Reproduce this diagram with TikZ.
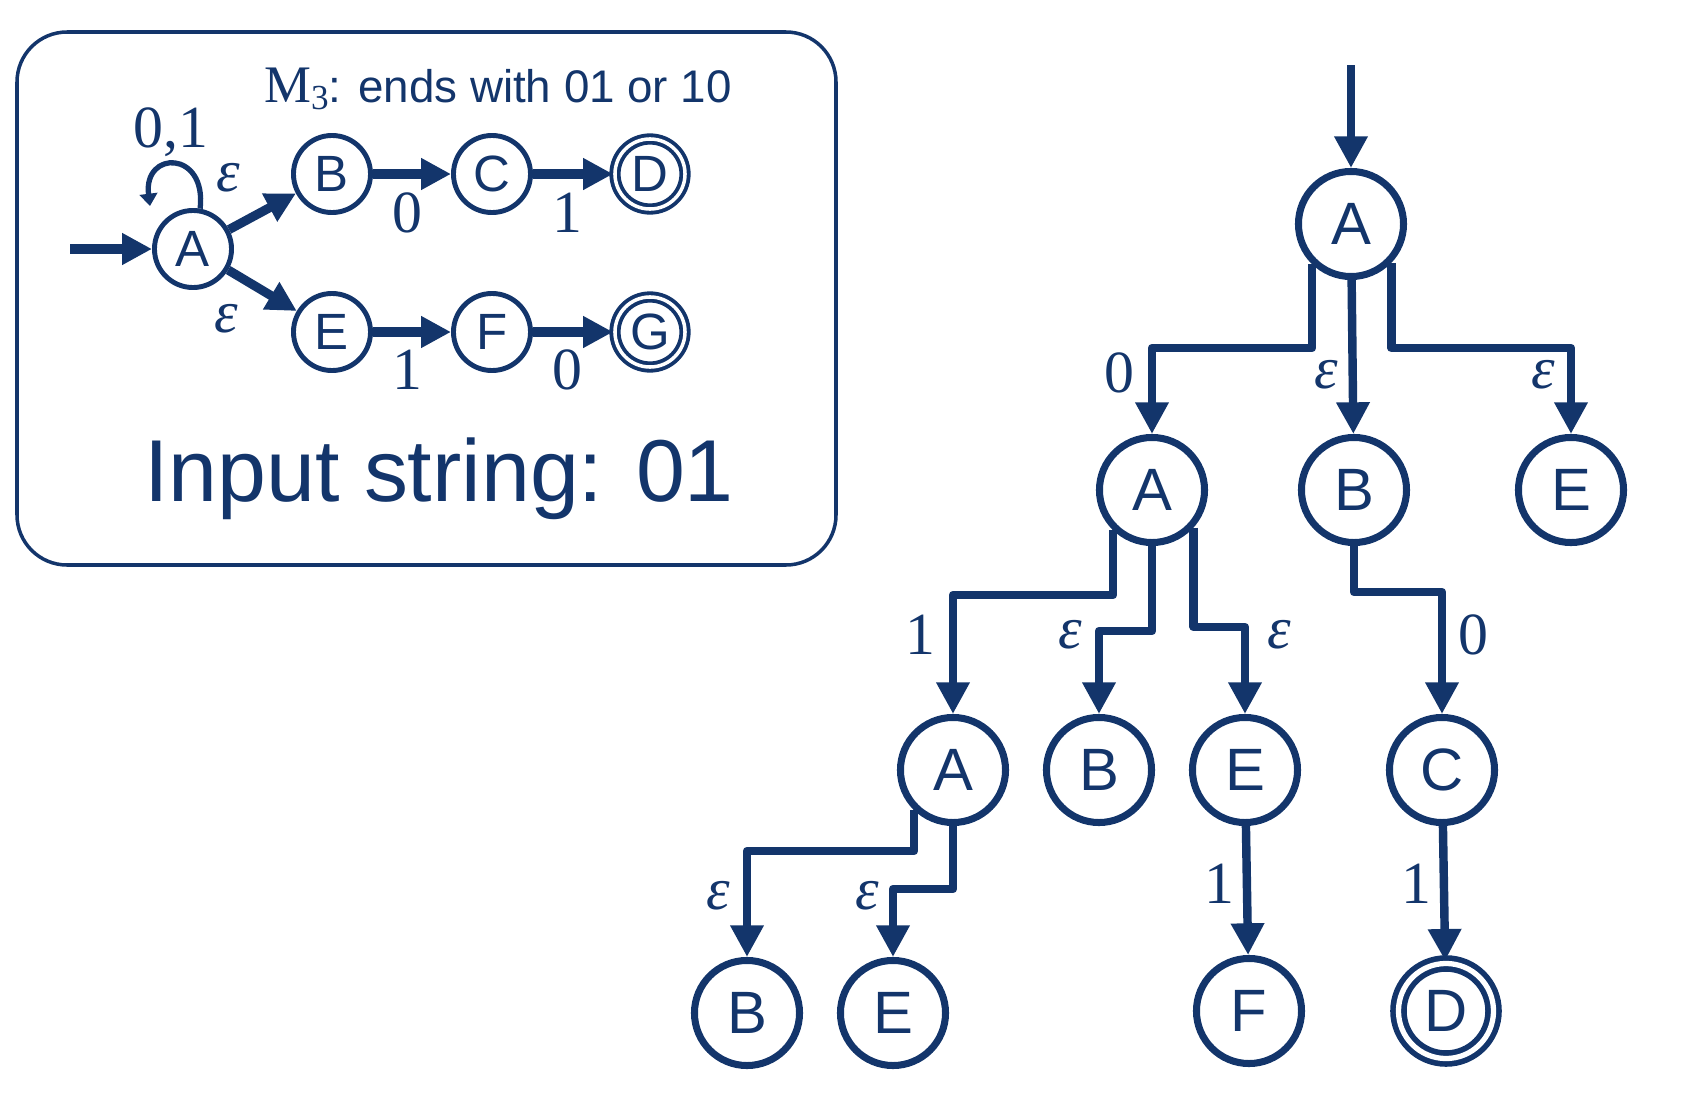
\documentclass[tikz,border=0pt]{standalone}
\usepackage{fontspec}
\setmainfont{Liberation Sans}
\newfontfamily\lblfont{Liberation Serif}
\usepackage{tikz}
\usetikzlibrary{arrows.meta,calc,positioning}
\definecolor{NavyBlue}{RGB}{19,53,107}

\newcommand{\eps}{{\itshape ε}}

\tikzset{
  tstate/.style={circle, draw=NavyBlue, line width=2pt, minimum size=1.05cm, inner sep=0pt,
    text=NavyBlue, font=\fontsize{17}{20}\selectfont},
  taccept/.style={tstate, line width=1.6pt, double, double distance=1.5pt, minimum size=0.95cm},
  sstate/.style={circle, draw=NavyBlue, line width=1.4pt, minimum size=0.77cm, inner sep=0pt,
    text=NavyBlue, font=\fontsize{14.5}{17}\selectfont},
  saccept/.style={sstate, line width=1.1pt, double, double distance=1pt, minimum size=0.70cm},
  tedge/.style={draw=NavyBlue, line width=2.4pt, line join=round, -{Triangle[length=9pt,width=9pt]}},
  sedge/.style={draw=NavyBlue, line width=2.6pt, -{Triangle[length=8.5pt,width=8.5pt]}},
  sloop/.style={draw=NavyBlue, line width=1.5pt, -{Triangle[length=3.5pt,width=5pt]}},
  lbl/.style={text=NavyBlue, font=\lblfont\fontsize{17}{20}\selectfont, inner sep=0pt}
}

\begin{document}
\begin{tikzpicture}[x=0.01cm, y=-0.01cm]
	\useasboundingbox (0,0) rectangle (1696,1100);
	
	% the machine M3
	\draw[NavyBlue, line width=1pt, rounded corners=0.5cm] (17,32) rectangle (836,565);
	\node[text=NavyBlue, font=\fontsize{13}{15}\selectfont] (title) at (498,89)
		{{\lblfont\fontsize{15}{15}\selectfont M\raisebox{-0.3ex}{\fontsize{10}{10}\selectfont 3}}: ends with 01 or 10};
	\node[text=NavyBlue, font=\fontsize{25}{30}\selectfont] (input) at (439,479) {Input string: 01};
	
	\node[sstate] (sA) at (193,249) {A};
	\node[sstate] (sB) at (332,174) {B};
	\node[sstate] (sC) at (492,174) {C};
	\node[saccept] (sD) at (650,174) {D};
	\node[sstate] (sE) at (332,332) {E};
	\node[sstate] (sF) at (492,332) {F};
	\node[saccept] (sG) at (650,332) {G};
	
	\coordinate (sstart) at (70,249);
	\coordinate (sloopend) at (150,206);
	
	\draw[sedge] (sstart) -- (sA);
	\draw[sloop] (sA.80) .. controls (207,150) and (143,150) .. (sloopend);
	\draw[sedge] (sA) -- (sB);
	\draw[sedge] (sB) -- (sC);
	\draw[sedge] (sC) -- (sD);
	\draw[sedge] (sA) -- (sE);
	\draw[sedge] (sE) -- (sF);
	\draw[sedge] (sF) -- (sG);
	
	\node[lbl] (l01) at (171,132) {0,1};
	\node[lbl] (lAB) at (228,178) {\eps};
	\node[lbl] (lAE) at (226,319) {\eps};
	\node[lbl] (lBC) at (407,213) {0};
	\node[lbl] (lCD) at (567,213) {1};
	\node[lbl] (lEF) at (407,370) {1};
	\node[lbl] (lFG) at (567,370) {0};
	
	% the run on 01
	\node[tstate] (rA) at (1351,224) {A};
	\node[tstate] (aA) at (1152,490) {A};
	\node[tstate] (aB) at (1354,490) {B};
	\node[tstate] (aE) at (1571,490) {E};
	\node[tstate] (bA) at (953,770) {A};
	\node[tstate] (bB) at (1099,770) {B};
	\node[tstate] (bE) at (1245,770) {E};
	\node[tstate] (bC) at (1442,770) {C};
	\node[tstate] (cB) at (747,1013) {B};
	\node[tstate] (cE) at (893,1013) {E};
	\node[tstate] (cF) at (1249,1011) {F};
	\node[taccept] (cD) at (1446,1011) {D};
	
	\coordinate (tstart) at (1351,65);
	
	\draw[tedge] (tstart) -- (rA);
	\draw[tedge] (rA.-134) -- (rA.-134 |- 0,348) -| (aA.north);
	\draw[tedge] (rA) -- (aB);
	\draw[tedge] (rA.-44) -- (rA.-44 |- 0,348) -| (aE.north);
	
	\draw[tedge] (aA.-134) -- (aA.-134 |- 0,595) -| (bA.north);
	\draw[tedge] (aA.south) -- (aA.south |- 0,631) -| (bB.north);
	\draw[tedge] (aA.-42) -- (aA.-42 |- 0,627) -| (bE.north);
	\draw[tedge] (aB.south) -- (aB.south |- 0,592) -| (bC.north);
	
	\draw[tedge] (bA.-134) -- (bA.-134 |- 0,851) -| (cB.north);
	\draw[tedge] (bA.south) -- (bA.south |- 0,889) -| (cE.north);
	\draw[tedge] (bE) -- (cF);
	\draw[tedge] (bC) -- (cD);
	
	\node[lbl] (t0) at (1119,373) {0};
	\node[lbl] (t1) at (1326,375) {\eps};
	\node[lbl] (t2) at (1543,375) {\eps};
	\node[lbl] (t3) at (920,635) {1};
	\node[lbl] (t4) at (1070,635) {\eps};
	\node[lbl] (t5) at (1279,635) {\eps};
	\node[lbl] (t6) at (1473,635) {0};
	\node[lbl] (t7) at (718,896) {\eps};
	\node[lbl] (t8) at (867,896) {\eps};
	\node[lbl] (t9) at (1219,884) {1};
	\node[lbl] (t10) at (1416,884) {1};
\end{tikzpicture}
\end{document}
